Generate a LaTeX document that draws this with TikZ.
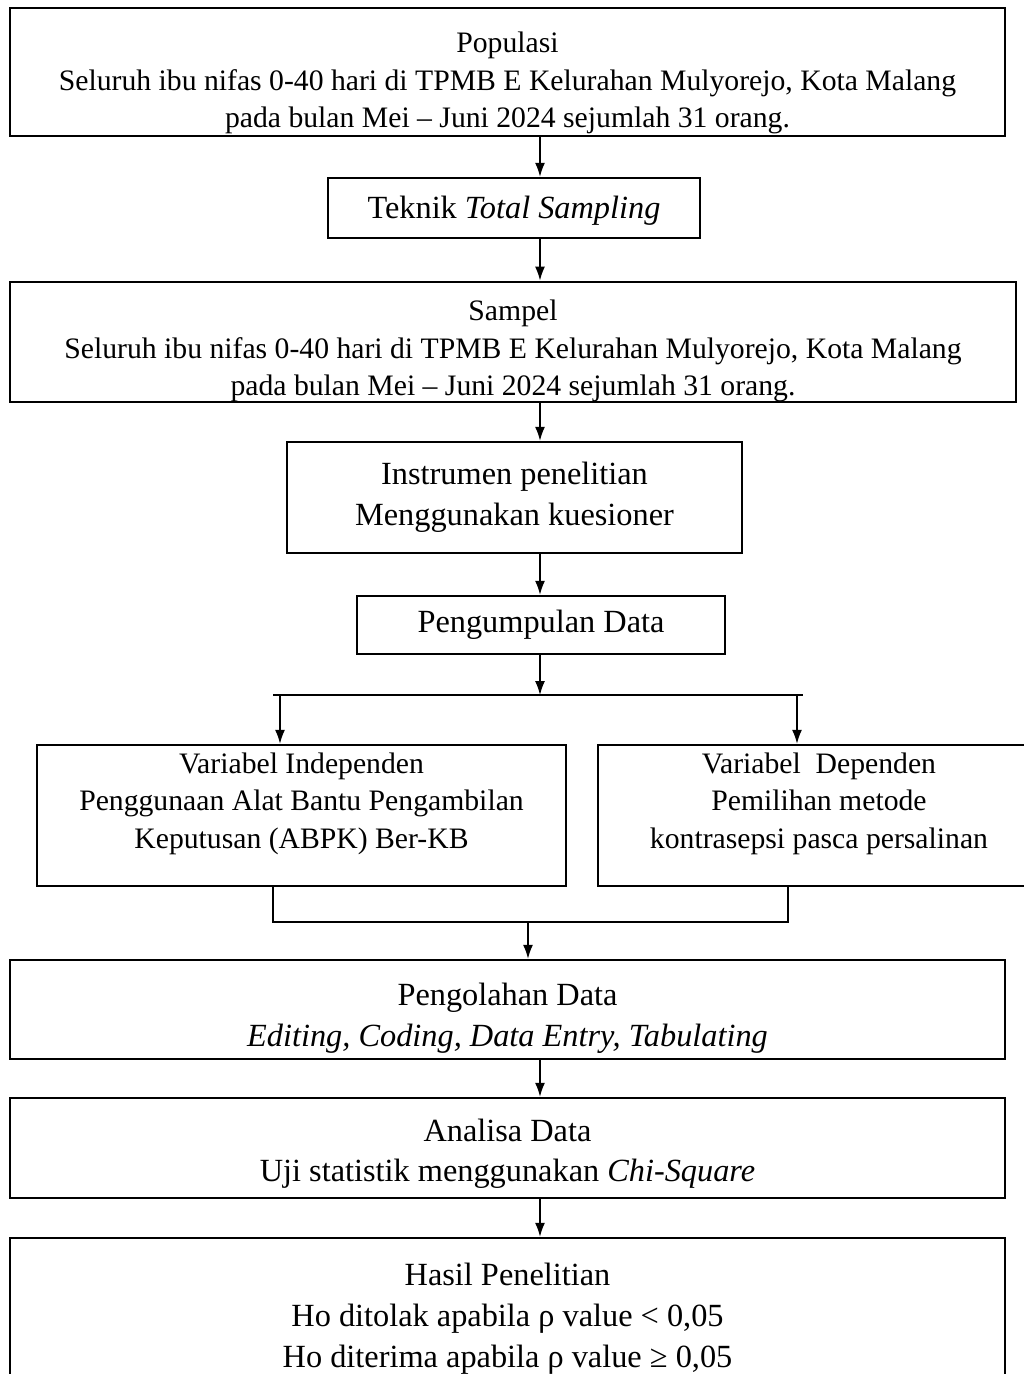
\documentclass[tikz,border=0pt]{standalone}
\usepackage{fontspec}
\setmainfont{Liberation Serif}
\usetikzlibrary{arrows.meta}

\tikzset{
	box/.style={shape=rectangle, draw, line width=1.4pt, align=center,
		inner sep=0pt, font=\fontsize{16.9}{21.5}\selectfont},
	bigbox/.style={box, font=\fontsize{18.4}{23.3}\selectfont},
	arr/.style={line width=0.8pt, -{Latex[length=0.28cm, width=0.2cm]}},
	wire/.style={line width=1.4pt}
}

\begin{document}
\begin{tikzpicture}[x=0.02cm, y=-0.02cm]
	\useasboundingbox (0, 0) rectangle (1024, 1374);
	\fill[white] (0, 0) rectangle (1024, 1374);
	\clip (0, 0) rectangle (1024, 1374);

	% Boxes:
	\node[box, minimum width=19.9cm, minimum height=2.56cm]
	(pop) at (507.5, 72){\rule{0pt}{0.85cm}Populasi\\
		Seluruh ibu nifas 0-40 hari di TPMB E Kelurahan Mulyorejo, Kota Malang\\
		pada bulan Mei -- Juni 2024 sejumlah 31 orang.};
	\node[bigbox, minimum width=7.44cm, minimum height=1.2cm]
	(tek) at (514, 208){\rule{0pt}{0.56cm}Teknik \textit{Total Sampling}};
	\node[box, minimum width=20.12cm, minimum height=2.4cm]
	(sam) at (513, 342){\rule{0pt}{0.77cm}Sampel\\
		Seluruh ibu nifas 0-40 hari di TPMB E Kelurahan Mulyorejo, Kota Malang\\
		pada bulan Mei -- Juni 2024 sejumlah 31 orang.};
	\node[bigbox, minimum width=9.1cm, minimum height=2.22cm]
	(ins) at (514.5, 497.5){Instrumen penelitian\\Menggunakan kuesioner};
	\node[bigbox, minimum width=7.36cm, minimum height=1.16cm]
	(kum) at (541, 625){Pengumpulan Data};
	\node[box, minimum width=10.58cm, minimum height=2.82cm, text depth=0.6cm]
	(ind) at (301.5, 815.5){Variabel Independen\\
		Penggunaan Alat Bantu Pengambilan\\Keputusan (ABPK) Ber-KB};
	\node[box, minimum width=8.84cm, minimum height=2.82cm, text depth=0.6cm]
	(dep) at (819, 815.5){Variabel\ \ Dependen\\
		Pemilihan metode\\kontrasepsi pasca persalinan};
	\node[bigbox, minimum width=19.9cm, minimum height=1.98cm]
	(olah) at (507.5, 1009.5){\rule{0pt}{0.8cm}Pengolahan Data\\
		\textit{Editing, Coding, Data Entry, Tabulating}};
	\node[bigbox, minimum width=19.9cm, minimum height=2cm]
	(ana) at (507.5, 1148){\rule{0pt}{0.68cm}Analisa Data\\
		Uji statistik menggunakan \textit{Chi-Square}};
	\node[bigbox, minimum width=19.9cm, minimum height=3.24cm]
	(has) at (507.5, 1319){Hasil Penelitian\\
		Ho ditolak apabila ρ value < 0,05\\
		Ho diterima apabila ρ value ≥ 0,05};

	% Arrows down the middle:
	\coordinate (spine) at (540, 0);
	\draw[arr] (pop.south -| spine) -- (tek.north -| spine);
	\draw[arr] (tek.south -| spine) -- (sam.north -| spine);
	\draw[arr] (sam.south -| spine) -- (ins.north -| spine);
	\draw[arr] (ins.south -| spine) -- (kum.north -| spine);

	% Split into the two variables
	\coordinate (split) at (540, 695);
	\coordinate (barL) at (273, 695);
	\coordinate (barR) at (803, 695);
	\coordinate (forkL) at (280, 695);
	\coordinate (forkR) at (797, 695);
	\draw[arr] (kum.south -| spine) -- (split);
	\draw[wire] (barL) -- (barR);
	\draw[arr] (forkL) -- (forkL |- ind.north);
	\draw[arr] (forkR) -- (forkR |- dep.north);

	% Join back together
	\coordinate (joinL) at (273, 922);
	\coordinate (joinR) at (788, 922);
	\coordinate (join) at (528, 922);
	\draw[wire] (ind.south -| joinL) -- (joinL) -- (joinR) -- (dep.south -| joinR);
	\draw[arr] (join) -- (olah.north -| join);

	\draw[arr] (olah.south -| spine) -- (ana.north -| spine);
	\draw[arr] (ana.south -| spine) -- (has.north -| spine);
\end{tikzpicture}
\end{document}
